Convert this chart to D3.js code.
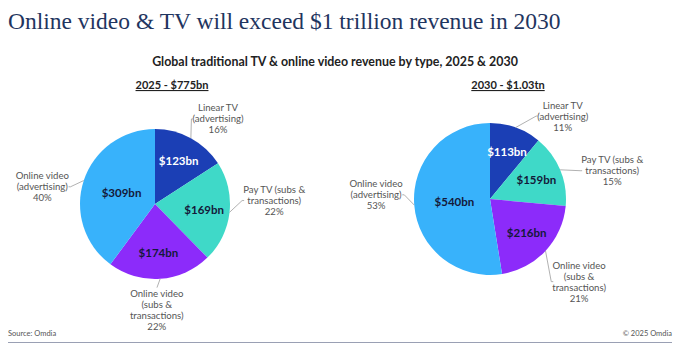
<!DOCTYPE html>
<html>
<head>
<meta charset="utf-8">
<script src="https://cdn.jsdelivr.net/npm/d3@7"></script>
<style>
  html, body { margin: 0; padding: 0; background: #fff; }
  svg { display: block; }
</style>
</head>
<body>
<svg id="chart" width="680" height="355"></svg>
<script>
// ---- data ----
const categories = ["Linear TV (advertising)", "Pay TV (subs & transactions)", "Online video (subs & transactions)", "Online video (advertising)"];
const categoryLines = [["Linear TV", "(advertising)"], ["Pay TV (subs &", "transactions)"], ["Online video", "(subs &", "transactions)"], ["Online video", "(advertising)"]];
const values2025 = [123, 169, 174, 309];
const values2030 = [113, 159, 216, 540];
const pieTitles = ["2025 - $775bn", "2030 - $1.03tn"];
const chartTitle = "Online video & TV will exceed $1 trillion revenue in 2030";
const chartSubtitle = "Global traditional TV & online video revenue by type, 2025 & 2030";
const sourceText = "Source: Omdia";
const copyrightText = "\u00A9 2025 Omdia";

// ---- styles ----
const colors = ["#1b3fb5", "#3fd9c8", "#8c2bfa", "#38b2fb"];
const valueTextColors = ["#ffffff", "#14193a", "#14193a", "#14193a"];
const sansFont = "Lato, 'Open Sans', sans-serif";

const svg = d3.select("#chart");

svg.append("text")
  .attr("x", 8).attr("y", 29)
  .attr("font-family", "'Liberation Serif', 'DejaVu Serif', serif")
  .attr("font-size", 23.5)
  .attr("fill", "#1f3560")
  .text(chartTitle);

svg.append("text")
  .attr("x", 335).attr("y", 66)
  .attr("text-anchor", "middle")
  .attr("font-family", sansFont)
  .attr("font-weight", "bold")
  .attr("font-size", 12.4)
  .attr("fill", "#222")
  .text(chartSubtitle);

// pie layout configs (position / label placement style)
const pies = [
  { values: values2025, title: pieTitles[0], cx: 155, cy: 204, r: 75, titleX: 172,
    labelPlace: [[8, 1.41], [-8, 1.59], [3, 1.41], [-9.6, 1.52]] },
  { values: values2030, title: pieTitles[1], cx: 490, cy: 199, r: 76, titleX: 508,
    labelPlace: [[21.5, 1.45], [9.6, 1.65], [-0.2, 1.6], [6.6, 1.5]] }
];

const pieGen = d3.pie().sort(null).value(d => d);
const lineH = 11;

pies.forEach(p => {
  const total = d3.sum(p.values);
  const arcs = pieGen(p.values);
  const arc = d3.arc().innerRadius(0).outerRadius(p.r);
  const g = svg.append("g").attr("transform", `translate(${p.cx},${p.cy})`);

  // title
  svg.append("text")
    .attr("x", p.titleX).attr("y", 89)
    .attr("text-anchor", "middle")
    .attr("font-family", sansFont)
    .attr("font-weight", "bold")
    .attr("font-size", 11)
    .attr("fill", "#222")
    .attr("text-decoration", "underline")
    .text(p.title);

  g.selectAll("path.slice").data(arcs).join("path")
    .attr("class", "slice")
    .attr("d", arc)
    .attr("fill", (d, i) => colors[i]);

  // value labels
  g.selectAll("text.val").data(arcs).join("text")
    .attr("class", "val")
    .attr("transform", d => {
      const frac = d.value / total;
      const rr = p.r * (frac > 0.35 ? 0.47 : 0.66);
      const a = (d.startAngle + d.endAngle) / 2;
      return `translate(${rr * Math.sin(a)},${-rr * Math.cos(a)})`;
    })
    .attr("dy", "0.35em")
    .attr("text-anchor", "middle")
    .attr("font-family", sansFont)
    .attr("font-weight", "bold")
    .attr("font-size", 11.5)
    .attr("fill", (d, i) => valueTextColors[i])
    .text(d => `$${d.value}bn`);

  // outer category labels
  arcs.forEach((d, i) => {
    const mid = (d.startAngle + d.endAngle) / 2;
    const [nudge, dist] = p.labelPlace[i];
    const a = mid + nudge * Math.PI / 180;
    const lx = dist * p.r * Math.sin(a);
    const ly = -dist * p.r * Math.cos(a);
    const pct = Math.round(d.value / total * 100) + "%";
    const lines = categoryLines[i].concat([pct]);
    const txt = g.append("text")
      .attr("text-anchor", "middle")
      .attr("font-family", sansFont)
      .attr("font-size", 9.6)
      .attr("fill", "#555");
    lines.forEach((ln, k) => {
      txt.append("tspan")
        .attr("x", lx)
        .attr("y", ly - (lines.length - 1) * lineH / 2 + k * lineH + 3.4)
        .text(ln);
    });
    const bb = txt.node().getBBox();
    // leader line
    const px = p.r * Math.sin(mid), py = -p.r * Math.cos(mid);
    let qx, qy;
    if (Math.abs(Math.sin(a)) > 0.5) {
      qx = Math.sin(a) > 0 ? bb.x - 1 : bb.x + bb.width + 1;
      qy = bb.y + bb.height / 2;
    } else {
      qx = bb.x + bb.width / 2;
      qy = Math.cos(a) > 0 ? bb.y + bb.height : bb.y;
    }
    if (Math.hypot(qx - px, qy - py) > 8) {
      g.append("path")
        .attr("d", `M${px},${py}L${qx},${qy}` + (Math.abs(Math.sin(a)) > 0.5 ? `h${Math.sin(a) > 0 ? 2 : -2}` : ""))
        .attr("fill", "none")
        .attr("stroke", "#a8a8a8")
        .attr("stroke-width", 0.9);
    }
  });
});

// footer
svg.append("text")
  .attr("x", 8).attr("y", 336)
  .attr("font-family", sansFont)
  .attr("font-size", 7.5)
  .attr("fill", "#555")
  .text(sourceText);
svg.append("text")
  .attr("x", 672).attr("y", 336)
  .attr("text-anchor", "end")
  .attr("font-family", sansFont)
  .attr("font-size", 7.5)
  .attr("fill", "#555")
  .text(copyrightText);
svg.append("line")
  .attr("x1", 8).attr("x2", 672)
  .attr("y1", 342.5).attr("y2", 342.5)
  .attr("stroke", "#9aa0b4")
  .attr("stroke-width", 1);
</script>
</body>
</html>
